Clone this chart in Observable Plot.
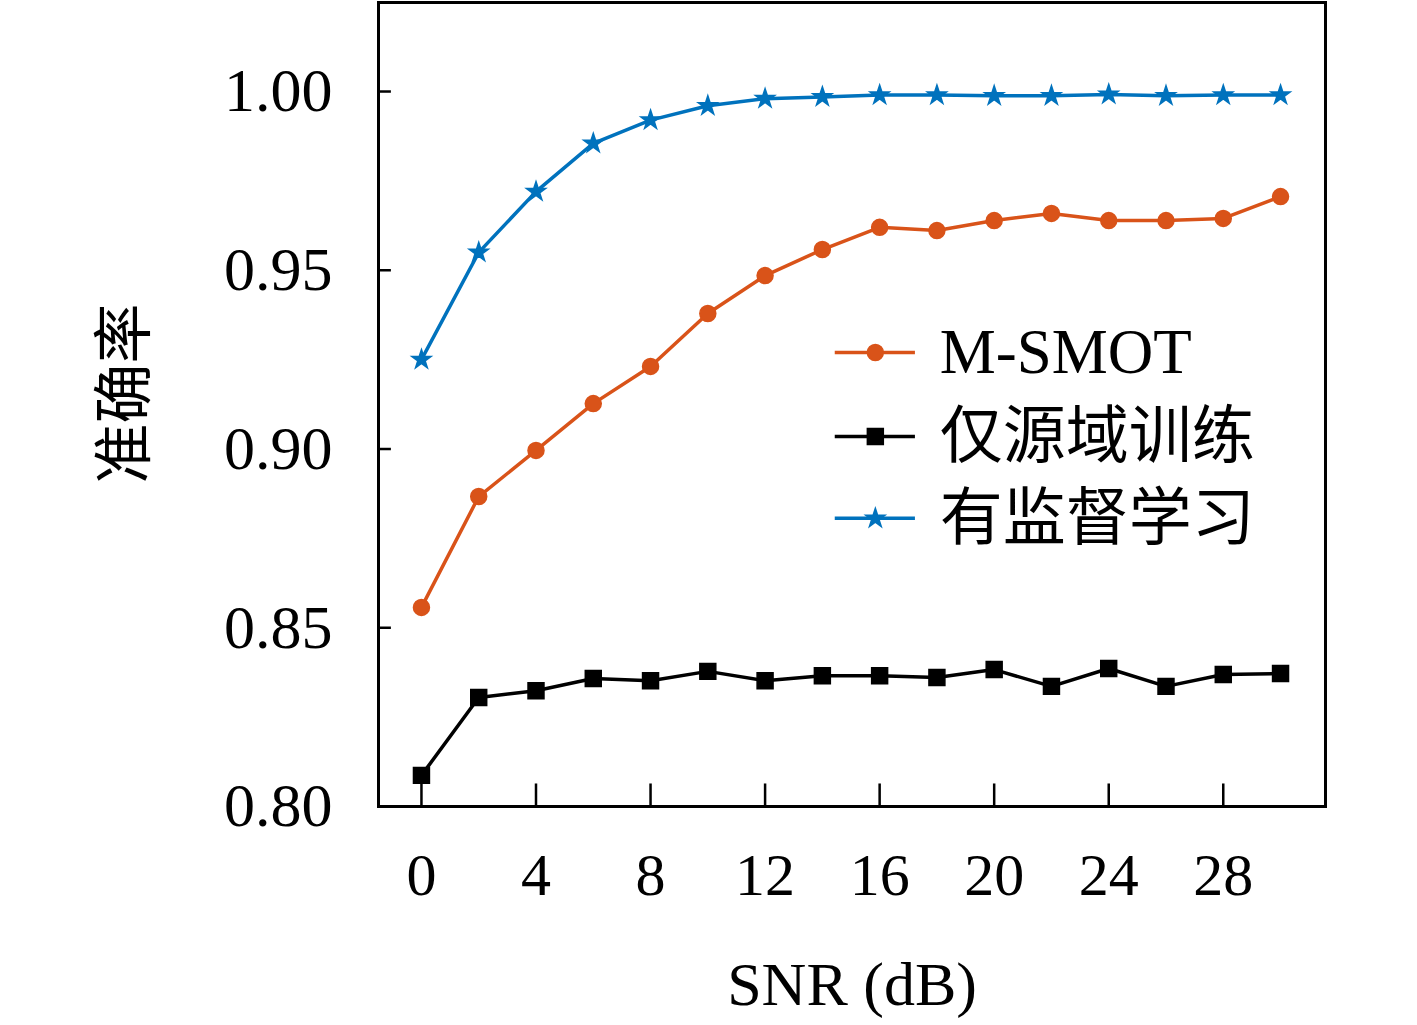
<!DOCTYPE html>
<html><head><meta charset="utf-8">
<script src="https://cdn.jsdelivr.net/npm/d3@7"></script>
<script src="https://cdn.jsdelivr.net/npm/@observablehq/plot@0.6"></script>
<style>body{margin:0;background:#fff}</style>
</head><body><div id="c"></div>
<script>
const snr = [0,2,4,6,8,10,12,14,16,18,20,22,24,26,28,30];
const msmot = [0.8557,0.8867,0.8996,0.9127,0.9231,0.9379,0.9485,0.9558,0.962,0.9611,0.9639,0.9659,0.9639,0.9639,0.9645,0.9706];
const source = [0.8087,0.8305,0.8324,0.8358,0.8352,0.8378,0.8352,0.8366,0.8366,0.8361,0.8383,0.8336,0.8386,0.8336,0.8369,0.8372];
const supervised = [0.925,0.955,0.972,0.9855,0.992,0.996,0.998,0.9985,0.999,0.999,0.9988,0.9988,0.9992,0.9988,0.999,0.999];
const yTicks = [0.80,0.85,0.90,0.95,1.00];
const xTicks = [0,4,8,12,16,20,24,28];
const names = ["M-SMOT","仅源域训练","有监督学习"];
const colors = ["#d95319","#000000","#0072bd"];
const symbols = ["circle","square","star"];
const legendY = [0.927,0.9035,0.8806];

const series = [msmot, source, supervised];
const rows = series.flatMap((s,i)=>s.map((v,j)=>({x:snr[j],y:v,k:names[i]})));
const leg = names.map((n,i)=>({n,y:legendY[i],c:colors[i],s:symbols[i]}));
const font = "'Liberation Serif','Noto Sans CJK SC',serif";
const sizes = {"circle":8,"square":9,"star":6};

const marks = [
  Plot.ruleY(yTicks,{x1:-1.5,x2:-1.05,stroke:"black",strokeWidth:2.5}),
  Plot.ruleX(xTicks,{y1:0.8,y2:0.8063,stroke:"black",strokeWidth:2.5}),
  Plot.axisY(yTicks,{tickSize:0,tickPadding:46,fontSize:62,tickFormat:d3.format(".2f"),label:null}),
  Plot.axisX(xTicks,{tickSize:0,tickPadding:46,fontSize:60,label:null}),
  Plot.text(["SNR (dB)"],{frameAnchor:"bottom",dy:198,fontSize:62}),
  Plot.text(["准确率"],{x:-1.5,y:0.9155,dx:-253,rotate:-90,fontSize:60,fontFamily:"'Noto Sans CJK SC'"}),
];
names.forEach((n,i)=>{
  const d = rows.filter(r=>r.k===n);
  marks.push(Plot.line(d,{x:"x",y:"y",stroke:colors[i],strokeWidth:3.5}));
  marks.push(Plot.dot(d,{x:"x",y:"y",fill:colors[i],stroke:colors[i],symbol:()=>symbols[i],r:sizes[symbols[i]]}));
});
leg.forEach(l=>{
  marks.push(Plot.ruleY([l.y],{x1:14.45,x2:17.25,stroke:l.c,strokeWidth:3.5}));
  marks.push(Plot.dot([l.y],{x:15.85,y:d=>d,fill:l.c,stroke:l.c,symbol:()=>l.s,r:sizes[l.s]}));
  marks.push(Plot.text([l.n],{x:18.1,y:l.y,textAnchor:"start",fontSize:63,fontFamily:font}));
});
marks.push(Plot.frame({stroke:"black",strokeWidth:3}));

const chart = Plot.plot({
  width:1417,height:1025,
  marginLeft:378,marginRight:92,marginTop:2,marginBottom:219,
  x:{domain:[-1.5,31.57]},
  y:{domain:[0.8,1.0249]},
  style:{fontFamily:font,background:"#fff",color:"black"},
  symbol:{type:"identity"},
  marks
});
document.getElementById("c").appendChild(chart);
</script></body></html>
